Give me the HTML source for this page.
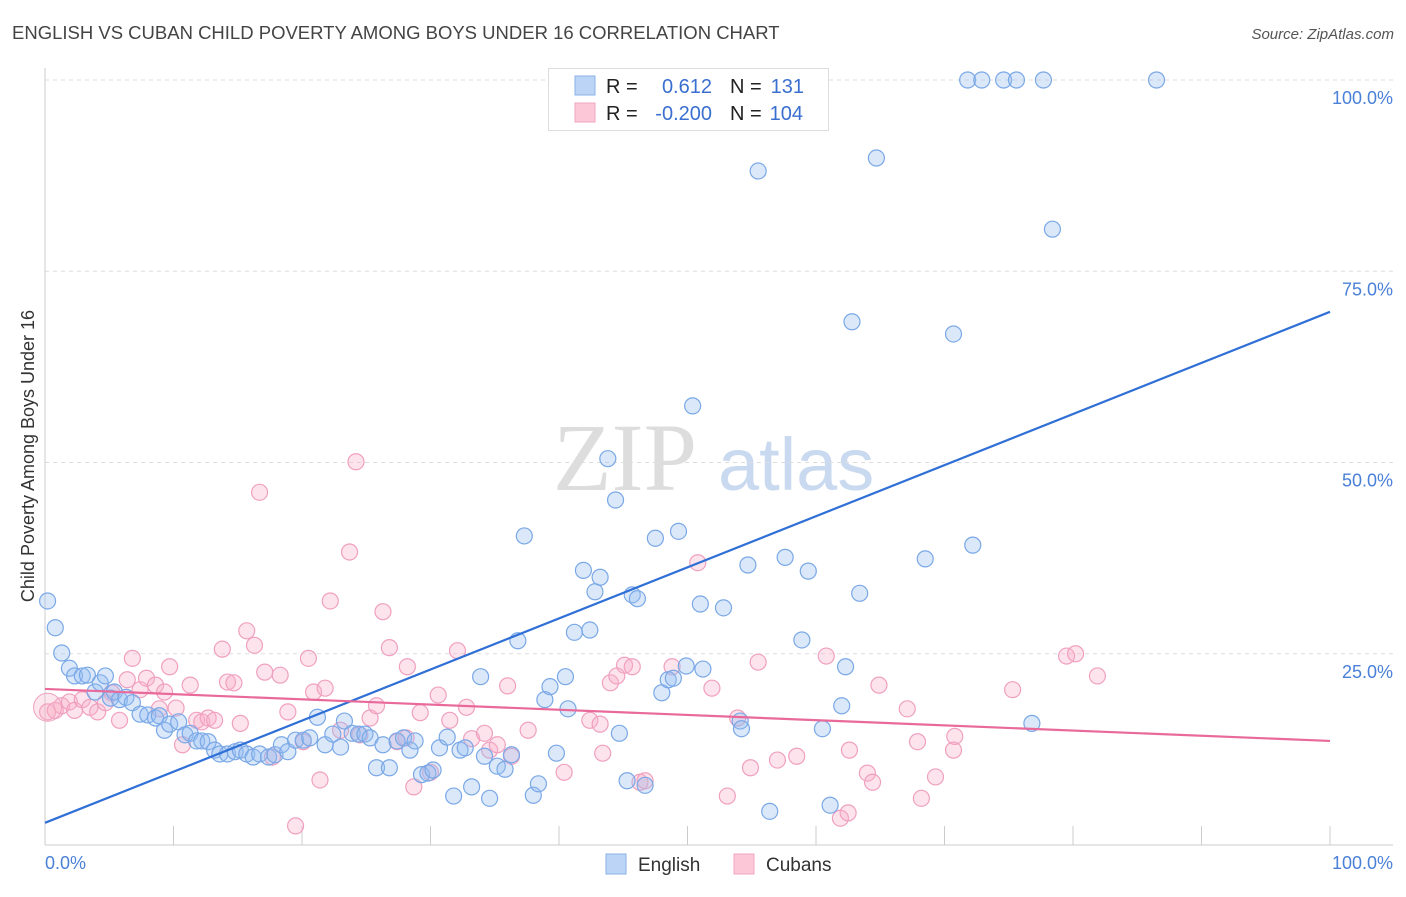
<!DOCTYPE html>
<html><head><meta charset="utf-8"><style>
body{margin:0;background:#fff;width:1406px;height:892px;overflow:hidden;font-family:"Liberation Sans",sans-serif}
</style></head><body>
<svg width="1406" height="892" xmlns="http://www.w3.org/2000/svg">
<text x="12" y="39" font-size="18.5" fill="#444">ENGLISH VS CUBAN CHILD POVERTY AMONG BOYS UNDER 16 CORRELATION CHART</text>
<text x="1394" y="39" font-size="15" fill="#555" font-style="italic" text-anchor="end">Source: ZipAtlas.com</text>
<g><text x="553" y="490" font-family="Liberation Serif" font-size="96" fill="#ddd">ZIP</text><text x="718" y="490" font-size="74" fill="#c9d9f0">atlas</text></g>
<g id="grid"></g><g id="ax"></g><g id="pts"></g><g id="trend"></g>
<text transform="translate(34,456) rotate(-90)" font-size="18" fill="#333" text-anchor="middle">Child Poverty Among Boys Under 16</text>
<g>
<rect x="548.5" y="68.5" width="280" height="62" fill="#fff" stroke="#ddd"/>
<rect x="575" y="76" width="20" height="19" fill="#bcd5f6" stroke="#8ab2e8"/>
<rect x="575" y="103" width="20" height="19" fill="#fcc8d8" stroke="#f0a4bf"/>
<text x="606" y="93" font-size="20" fill="#222">R =</text><text x="712" y="93" font-size="20" fill="#3a6fd0" text-anchor="end">0.612</text>
<text x="730" y="93" font-size="20" fill="#222">N =</text><text x="804" y="93" font-size="20" fill="#3a6fd0" text-anchor="end">131</text>
<text x="606" y="120" font-size="20" fill="#222">R =</text><text x="712" y="120" font-size="20" fill="#3a6fd0" text-anchor="end">-0.200</text>
<text x="730" y="120" font-size="20" fill="#222">N =</text><text x="803" y="120" font-size="20" fill="#3a6fd0" text-anchor="end">104</text>
</g>
<g>
<rect x="606" y="854" width="20" height="20" fill="#bcd5f6" stroke="#8ab2e8"/>
<text x="638" y="871" font-size="19" fill="#333">English</text>
<rect x="734" y="854" width="20" height="20" fill="#fcc8d8" stroke="#f0a4bf"/>
<text x="766" y="871" font-size="19" fill="#333">Cubans</text>
</g>
</svg>
<script>
const engX=[0.2,0.8,1.3,1.9,2.3,2.9,3.3,3.9,4.3,4.7,5.1,5.4,5.8,6.3,6.8,7.4,8.0,8.6,8.9,9.3,9.7,10.4,10.9,11.3,11.8,12.2,12.7,13.2,13.6,14.2,14.8,15.2,15.7,16.2,16.7,17.4,17.9,18.4,18.9,19.5,20.1,20.6,21.2,21.8,22.4,23.0,23.3,23.9,24.4,24.9,25.3,25.8,26.3,26.8,27.4,27.9,28.4,28.8,29.3,29.8,30.2,30.7,31.3,31.8,32.3,32.7,33.2,33.9,34.2,34.6,35.2,35.8,36.3,36.8,37.3,38.0,38.4,38.9,39.3,39.8,40.5,40.7,41.2,41.9,42.4,42.8,43.2,43.8,44.4,44.7,45.3,45.7,46.1,46.7,47.5,48.0,48.5,48.9,49.3,49.9,50.4,51.0,51.2,52.8,54.1,54.2,54.7,55.5,56.4,57.6,58.9,59.4,60.5,61.1,62.0,62.3,62.8,63.4,64.7,68.5,70.7,71.8,72.2,72.9,74.6,75.6,76.8,77.7,78.4,86.5];
const engY=[31.9,28.4,25.1,23.1,22.1,22.1,22.2,20.0,21.2,22.1,19.2,20.0,19.0,19.3,18.6,17.1,17.0,16.6,16.9,15.0,15.8,16.1,14.4,14.6,13.6,13.6,13.5,12.4,11.9,11.9,12.2,12.4,11.9,11.5,11.9,11.5,11.8,13.1,12.2,13.7,13.7,14.0,16.7,13.1,14.5,12.8,16.2,14.6,14.5,14.5,14.0,10.1,13.1,10.1,13.6,14.0,12.4,13.6,9.2,9.4,9.8,12.7,14.1,6.4,12.4,12.7,7.6,22.0,11.6,6.1,10.3,9.9,11.8,26.7,40.4,6.5,8.0,19.0,20.7,12.0,22.0,17.8,27.8,35.9,28.1,33.1,35.0,50.5,45.1,14.6,8.4,32.7,32.2,7.8,40.1,19.9,21.6,21.8,41.0,23.4,57.4,31.5,23.0,31.0,16.2,15.2,36.6,88.1,4.4,37.6,26.8,35.8,15.2,5.2,18.2,23.3,68.4,32.9,89.8,37.4,66.8,100,39.2,100,100,100,15.9,100,80.5,100];
const cubX=[0.2,0.8,1.3,1.9,2.3,2.9,3.5,4.1,4.7,5.2,5.8,6.4,6.8,7.4,7.9,8.6,8.9,9.3,9.7,10.2,10.7,11.3,11.8,12.2,12.7,13.2,13.8,14.2,14.7,15.2,15.7,16.3,16.7,17.1,17.7,18.3,18.9,19.5,20.1,20.5,20.9,21.4,21.8,22.2,23.0,23.7,24.2,24.5,25.3,25.8,26.3,26.8,27.4,28.1,28.2,28.7,29.2,30.0,30.6,31.5,32.1,32.8,33.2,34.2,34.6,35.2,36.0,36.3,37.6,40.4,42.4,43.2,43.4,44.0,44.5,45.1,45.7,46.3,46.7,48.8,50.8,51.9,53.1,53.9,54.9,55.5,57.0,58.5,60.8,61.9,62.5,62.6,64.0,64.4,64.9,67.1,67.9,68.2,69.3,70.7,70.8,75.3,79.5,80.2,81.9];
const cubY=[17.4,17.6,18.2,18.7,17.6,19.0,18.0,17.4,18.6,19.9,16.3,21.6,24.4,20.3,21.8,20.9,17.8,20.0,23.3,17.9,13.1,20.9,16.3,16.1,16.6,16.3,25.6,21.3,21.2,15.9,28.0,26.1,46.1,22.6,11.5,22.2,17.4,2.5,13.5,24.4,20.0,8.5,20.5,31.9,15.0,38.3,50.1,14.4,16.6,18.2,30.5,25.8,13.5,14.0,23.3,7.6,17.3,9.5,19.6,16.3,25.4,18.0,13.9,14.6,12.4,13.1,20.8,11.6,15.0,9.5,16.3,15.8,12.0,21.2,22.1,23.5,23.3,8.2,8.4,23.3,36.9,20.5,6.4,16.6,10.1,23.9,11.1,11.6,24.7,3.5,4.2,12.4,9.4,8.2,20.9,17.8,13.5,6.1,8.9,12.4,14.2,20.3,24.7,25.0,22.1];
const engTrend=[2.9,69.7];
const cubTrend=[20.4,13.6];
const yTicks=[25,50,75,100];
const yTickLabels=["25.0%","50.0%","75.0%","100.0%"];
const NS="http://www.w3.org/2000/svg";
const X=v=>45+v*12.85, Y=v=>845-v*7.65;
function mk(t,a,p){const e=document.createElementNS(NS,t);for(const k in a)e.setAttribute(k,a[k]);document.getElementById(p).appendChild(e);return e;}
yTicks.forEach((t,i)=>{
 const g=mk('line',{x1:45,x2:1393,y1:Y(t),y2:Y(t),stroke:'#ddd','stroke-dasharray':'4 4'},'grid');
 
 
 const l=mk('text',{x:1393,y:Y(t)+24,'font-size':18,fill:'#4a80d8','text-anchor':'end'},'ax');
 l.textContent=yTickLabels[i];
 
 
});
let a=mk('line',{x1:45,x2:45,y1:68,y2:845,stroke:'#ccc'},'ax');


a=mk('line',{x1:45,x2:1393,y1:845,y2:845,stroke:'#ccc'},'ax');


for(let i=0;i<=100;i+=10){const t=mk('line',{x1:X(i),x2:X(i),y1:826,y2:845,stroke:'#ccc'},'ax');
 
 }
[[0,'0.0%','start',45],[100,'100.0%','end',1393]].forEach(d=>{const t=mk('text',{x:d[3],y:869,'font-size':18,fill:'#4a80d8','text-anchor':d[2]},'ax');t.textContent=d[1];
 
 });
function pts(xs,ys,fill,stroke,name){xs.forEach((x,i)=>{const c=mk('circle',{cx:X(x),cy:Y(ys[i]),r:8,fill:fill,stroke:stroke,'stroke-width':1.2},'pts');
 
 });}
pts(cubX,cubY,'rgba(248,175,200,0.35)','#f0a0bf','cubans-point');
pts(engX,engY,'rgba(150,190,240,0.35)','#7aa8e6','english-point');
let b=mk('circle',{cx:X(0.2),cy:Y(18),r:14,fill:'rgba(248,175,200,0.3)',stroke:'#f0a0bf'},'pts');


let tl=mk('line',{x1:X(0),y1:Y(engTrend[0]),x2:X(100),y2:Y(engTrend[1]),stroke:'#2f6fd6','stroke-width':2.2},'trend');


tl=mk('line',{x1:X(0),y1:Y(cubTrend[0]),x2:X(100),y2:Y(cubTrend[1]),stroke:'#e8699a','stroke-width':2.2},'trend');


</script>
</body></html>
